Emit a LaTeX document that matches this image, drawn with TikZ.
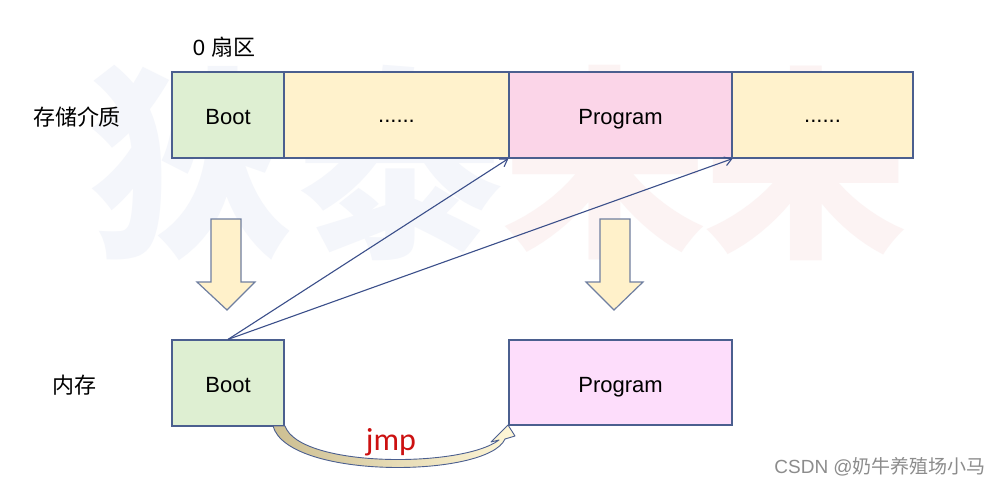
\documentclass[tikz,border=0pt]{standalone}
\usepackage{fontspec}
\setmainfont{Liberation Sans}
\newfontfamily\cjk{Noto Sans CJK SC}
\newfontfamily\calib{Carlito}
\usetikzlibrary{arrows.meta}
\definecolor{bord}{HTML}{4B5F8F}
\definecolor{bootg}{HTML}{DEEFD2}
\definecolor{yell}{HTML}{FFF2CC}
\definecolor{pinkt}{HTML}{FBD5E8}
\definecolor{pinkb}{HTML}{FDDDFB}
\definecolor{lnk}{HTML}{3B4F8A}
\definecolor{barr}{HTML}{FFF1CA}
\definecolor{barrb}{HTML}{6F7FA0}
\definecolor{jmpred}{HTML}{CC1111}
\definecolor{khaki}{HTML}{CDBF92}
\definecolor{lightk}{HTML}{FFF7D8}
\definecolor{wmblue}{HTML}{F4F6FB}
\definecolor{wmred}{HTML}{FCF3F3}
\begin{document}
\begin{tikzpicture}[x=1pt,y=-1pt,
  box/.style={draw=bord, line width=1.2pt, minimum height=86pt, inner sep=0pt,
    text height=19pt, text depth=0pt, font=\fontsize{22}{26}\selectfont},
  lbl/.style={font=\fontsize{22}{26}\selectfont\cjk, inner sep=0pt},
  link/.style={draw=lnk, line width=1.1pt, -{Straight Barb[length=7pt,width=9pt]}},
  blockarrow/.style={fill=barr, draw=barrb, line width=1.2pt, line join=miter},
  wm/.style={font=\fontsize{205}{210}\selectfont\cjk\bfseries, inner sep=0pt}
]
\useasboundingbox (0,0) rectangle (1002,490);
\fill[white] (0,0) rectangle (1002,490);

% faint watermark (behind everything)
\node[wm, text=wmblue] (wm1) at (192,163) {狄};
\node[wm, text=wmblue] (wm2) at (400,163) {泰};
\node[wm, text=wmred] (wm3) at (605,163) {未};
\node[wm, text=wmred] (wm4) at (806,163) {来};

% top strip
\node[box, fill=bootg, minimum width=112pt] (boot1) at (228,115) {Boot};
\node[box, fill=yell, minimum width=225pt] (dots1) at (396.5,115) {\raisebox{2pt}{......}};
\node[box, fill=pinkt, minimum width=223pt] (prog1) at (620.5,115) {Program};
\node[box, fill=yell, minimum width=181pt] (dots2) at (822.5,115) {\raisebox{2pt}{......}};

% labels
\node[lbl] (sector) at (224,47) {\fontspec{Liberation Sans}0 \cjk 扇区};
\node[lbl] (medium) at (77,117) {存储介质};
\node[lbl] (mem) at (74,385) {内存};

% bottom boxes
\node[box, fill=bootg, minimum width=112pt] (boot2) at (228,383) {Boot};
\node[box, fill=pinkb, minimum width=223pt, minimum height=85pt] (prog2) at (620.5,382.5) {Program};

% block down arrows
\draw[blockarrow] (211,219) -- (241,219) -- (241,282) -- (255,282) -- (227,310) -- (197,282) -- (211,282) -- cycle;
\draw[blockarrow] (600,219) -- (630,219) -- (630,282) -- (643,282) -- (614,310) -- (586,282) -- (600,282) -- cycle;

% links
\draw[link] (boot2.north) -- (prog1.south west);
\draw[link] (boot2.north) -- (prog1.south east);

% jmp curved block arrow
\path[draw=bord, line width=0.9pt, line join=round, left color=khaki, right color=lightk]
  (273,426) .. controls (288,480) and (488,478) .. (505,439)
  -- (515,436) -- (508,425) -- (491,442) -- (499,440)
  .. controls (462,468) and (300,468) .. (285,426) -- cycle;
\node[font=\fontsize{32}{36}\selectfont\calib, text=jmpred, inner sep=0pt] (jmp) at (391,442) {jmp};

% CSDN mark
\node[anchor=east, text=black!45, inner sep=0pt, font=\fontsize{19}{22}\selectfont] (csdn) at (986,467) {CSDN @\cjk 奶牛养殖场小马};
\end{tikzpicture}
\end{document}
